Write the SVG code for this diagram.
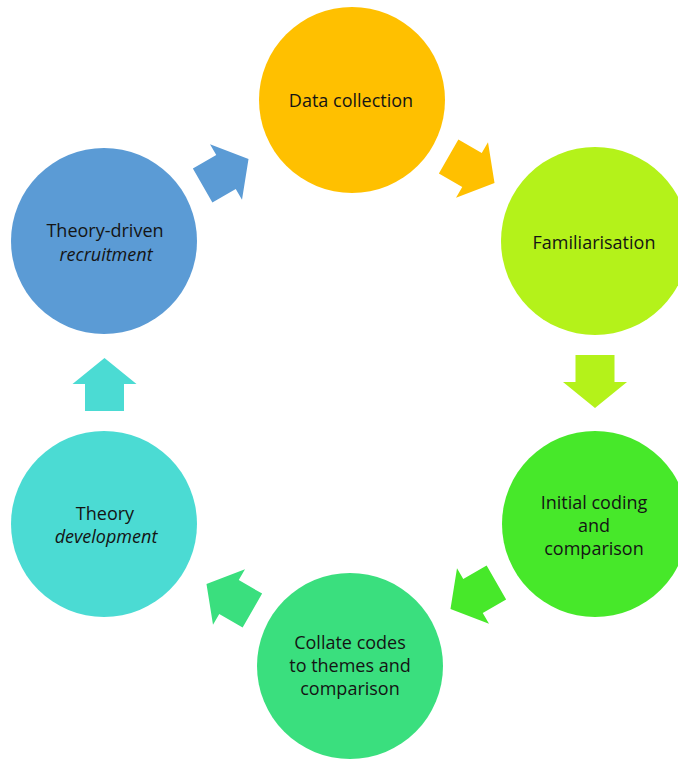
<svg xmlns="http://www.w3.org/2000/svg" width="678" height="759" viewBox="0 0 678 759">
<defs>
<style>
text{font-family:"Open Sans","Liberation Sans",sans-serif;font-size:18px;fill:#141414;text-anchor:middle;dominant-baseline:central}
.i{font-style:italic}
</style>
<path id="arr" d="M-27,-19.5 L0,-19.5 L0,-32 L26,0 L0,32 L0,19.5 L-27,19.5 Z"/>
</defs>
<rect width="678" height="759" fill="#ffffff"/>
<g id="connectors">
<use href="#arr" fill="#5B9BD5" transform="translate(226,172) rotate(-30)"/>
<use href="#arr" fill="#FFC000" transform="translate(472,170) rotate(30)"/>
<use href="#arr" fill="#B4F21A" transform="translate(595,382) rotate(90)"/>
<use href="#arr" fill="#47E82A" transform="translate(473,596) rotate(150)"/>
<use href="#arr" fill="#3ADF7E" transform="translate(229,597) rotate(210)"/>
<use href="#arr" fill="#4BDBD3" transform="translate(104.5,384) rotate(-90)"/>
</g>
<g id="data-collection">
<circle cx="352" cy="100" r="93" fill="#FFC000"/>
<text x="351" y="100">Data collection</text>
</g>
<g id="familiarisation">
<circle cx="595" cy="241" r="94" fill="#B4F21A"/>
<text x="594" y="242">Familiarisation</text>
</g>
<g id="initial-coding">
<circle cx="595" cy="524" r="93" fill="#47E82A"/>
<text x="594" y="502">Initial coding</text>
<text x="594" y="525">and</text>
<text x="594" y="548">comparison</text>
</g>
<g id="collate-codes">
<circle cx="350" cy="666" r="93" fill="#3ADF7E"/>
<text x="350" y="642">Collate codes</text>
<text x="350" y="665">to themes and</text>
<text x="350" y="688">comparison</text>
</g>
<g id="theory-development">
<circle cx="104" cy="524" r="93" fill="#4BDBD3"/>
<text x="105" y="513">Theory</text>
<text x="106" y="536" class="i">development</text>
</g>
<g id="theory-driven-recruitment">
<circle cx="104" cy="241" r="93" fill="#5B9BD5"/>
<text x="105" y="230">Theory-driven</text>
<text x="106" y="254" class="i">recruitment</text>
</g>
</svg>
